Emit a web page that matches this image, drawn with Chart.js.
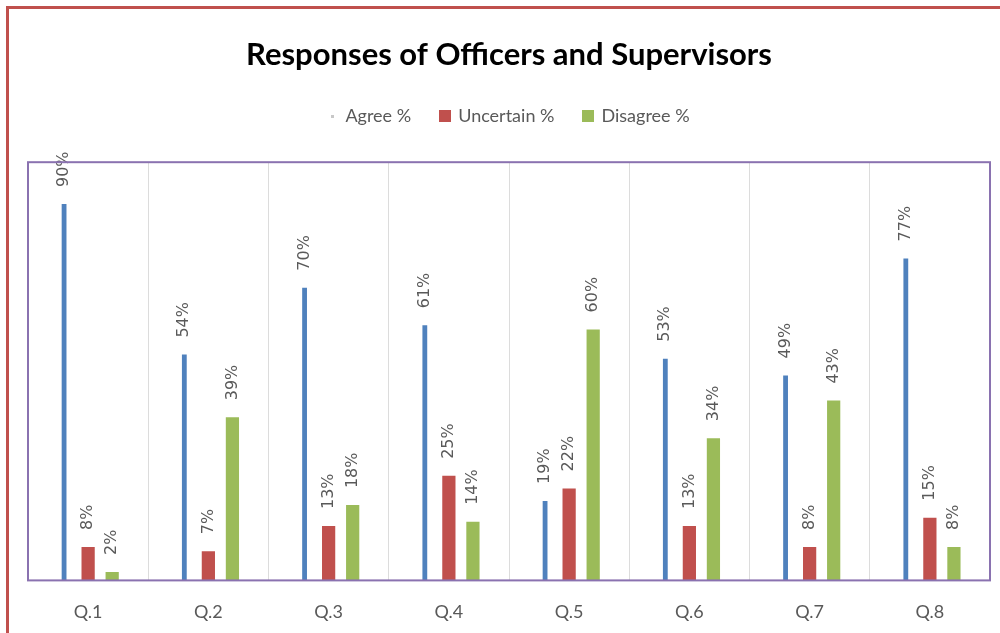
<!DOCTYPE html>
<html>
<head>
<meta charset="utf-8">
<script src="https://cdn.jsdelivr.net/npm/chart.js@4"></script>
<style>
  html, body { margin: 0; padding: 0; background: #fff; overflow: hidden; }
  #frame { position: absolute; left: 6px; top: 6px; width: 1010px; height: 650px;
           border-left: 3px solid #c0504d; border-top: 3px solid #c0504d; background: #fff; }
  #wrap { position: absolute; left: 0; top: 0; width: 1000px; height: 633px; overflow: hidden; }
</style>
</head>
<body>
<div id="frame"></div>
<div id="wrap"><canvas id="chart" width="1000" height="660"></canvas></div>
<script>
var questions = ["Q.1", "Q.2", "Q.3", "Q.4", "Q.5", "Q.6", "Q.7", "Q.8"];
var agreeValues = [90, 54, 70, 61, 19, 53, 49, 77];
var uncertainValues = [8, 7, 13, 25, 22, 13, 8, 15];
var disagreeValues = [2, 39, 18, 14, 60, 34, 43, 8];

var blue = "#4f81bd", red = "#c0504d", green = "#9bbb59";
var textGray = "#595959";

// small canvases used as legend markers
function marker(size, color) {
	var c = document.createElement("canvas");
	c.width = size; c.height = size;
	var g = c.getContext("2d");
	g.fillStyle = color;
	g.fillRect(0, 0, size, size);
	return c;
}
var markers = [marker(3, "#c8c8c8"), marker(12, red), marker(12, green)];

// value labels, rotated, above each bar
var barLabels = {
	id: "barLabels",
	afterDatasetsDraw: function(chart) {
		var ctx = chart.ctx;
		ctx.save();
		ctx.font = "16px 'DejaVu Sans'";
		ctx.fillStyle = textGray;
		ctx.textAlign = "left";
		ctx.textBaseline = "middle";
		chart.data.datasets.forEach(function(ds, i) {
			chart.getDatasetMeta(i).data.forEach(function(bar, j) {
				ctx.save();
				ctx.translate(bar.x, bar.y - 17);
				ctx.rotate(-Math.PI / 2);
				ctx.fillText(ds.data[j] + "%", 0, 0);
				ctx.restore();
			});
		});
		ctx.restore();
	}
};

// purple plot-area border
var plotBorder = {
	id: "plotBorder",
	afterDraw: function(chart) {
		var a = chart.chartArea, ctx = chart.ctx;
		ctx.save();
		ctx.strokeStyle = "#8a72b0";
		ctx.lineWidth = 2;
		ctx.strokeRect(a.left, a.top, a.right - a.left, a.bottom - a.top);
		ctx.restore();
	}
};

new Chart("chart", {
	type: "bar",
	data: {
		labels: questions,
		datasets: [
			{ label: "Agree %", data: agreeValues, backgroundColor: blue, barPercentage: 0.2 },
			{ label: "Uncertain %", data: uncertainValues, backgroundColor: red, barPercentage: 0.55 },
			{ label: "Disagree %", data: disagreeValues, backgroundColor: green, barPercentage: 0.55 }
		]
	},
	options: {
		responsive: false,
		animation: false,
		categoryPercentage: 0.6,
		layout: { padding: { left: 28, right: 10, top: 0, bottom: 16 } },
		plugins: {
			title: {
				display: true,
				text: "Responses of Officers and Supervisors",
				color: "#000",
				font: { family: "Lato", size: 31, weight: "bold" },
				padding: { top: 36, bottom: 4 }
			},
			// empty subtitle below the legend, keeps a gap above the plot
			subtitle: {
				display: true,
				text: "",
				weight: 500,
				font: { size: 10, lineHeight: 1 },
				padding: { top: 0, bottom: 17 }
			},
			legend: {
				labels: {
					usePointStyle: true,
					pointStyleWidth: 8,
					boxWidth: 12,
					boxHeight: 12,
					color: textGray,
					font: { family: "Lato", size: 18 },
					padding: 30,
					generateLabels: function(chart) {
						return chart.data.datasets.map(function(ds, i) {
							return { text: ds.label, pointStyle: markers[i], datasetIndex: i,
								fillStyle: ds.backgroundColor, strokeStyle: ds.backgroundColor,
								lineWidth: 0, fontColor: textGray };
						});
					}
				}
			},
			tooltip: { enabled: false }
		},
		scales: {
			x: {
				offset: true,
				grid: { display: true, offset: true, drawTicks: false, color: "#dcdcdc" },
				border: { display: false },
				ticks: { color: textGray, font: { family: "Lato", size: 18 }, padding: 21 }
			},
			y: { display: false, min: 0, max: 100 }
		}
	},
	plugins: [barLabels, plotBorder]
});
</script>
</body>
</html>
